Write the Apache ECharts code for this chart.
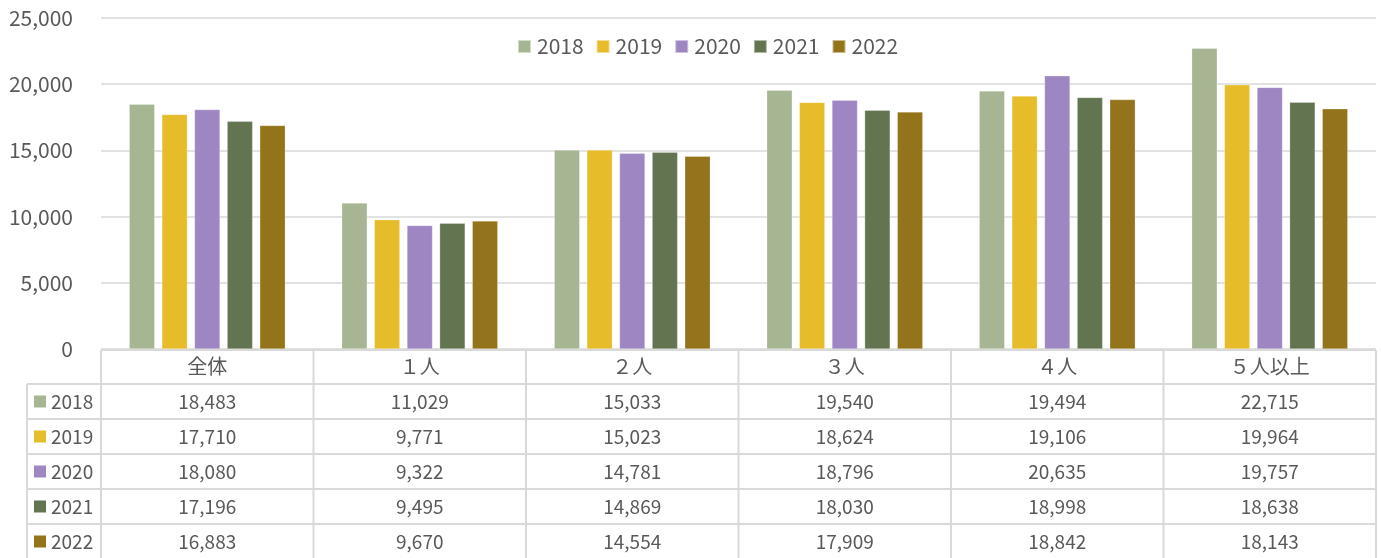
<!DOCTYPE html>
<html>
<head>
<meta charset="utf-8">
<script src="https://cdn.jsdelivr.net/npm/echarts@6/dist/echarts.min.js"></script>
<style>
  html, body { margin: 0; padding: 0; background: #fff; }
  #main { width: 1381px; height: 558px; }
</style>
</head>
<body>
<div id="main"></div>
<script>
// 世帯人数別のデータ
var categories = ['全体', '１人', '２人', '３人', '４人', '５人以上'];
var years = ['2018', '2019', '2020', '2021', '2022'];
var v2018 = [18483, 11029, 15033, 19540, 19494, 22715];
var v2019 = [17710, 9771, 15023, 18624, 19106, 19964];
var v2020 = [18080, 9322, 14781, 18796, 20635, 19757];
var v2021 = [17196, 9495, 14869, 18030, 18998, 18638];
var v2022 = [16883, 9670, 14554, 17909, 18842, 18143];
var yTicks = [0, 5000, 10000, 15000, 20000, 25000];

var colors = ['#A6B693', '#E6BC2A', '#9E86C2', '#637550', '#93741A'];
var values = [v2018, v2019, v2020, v2021, v2022];

var FONT = '"Noto Sans CJK JP", "Noto Sans", sans-serif';
var TXT = '#595959';
var LINE = '#D9D9D9';

// 表のレイアウト
var gridL = 101, gridR = 1376, axisY = 349;
var tabL = 27, headTop = 350, headBot = 384, rowH = 35;
var colW = (gridR - gridL) / categories.length;

function fmt(n) { return n.toLocaleString('en-US'); }

var graphics = [];
function hline(x1, x2, y) {
    graphics.push({ type: 'line', silent: true, shape: { x1: x1, y1: y, x2: x2, y2: y },
        style: { stroke: LINE, lineWidth: 2 } });
}
function vline(x, y1, y2) {
    graphics.push({ type: 'line', silent: true, shape: { x1: x, y1: y1, x2: x, y2: y2 },
        style: { stroke: LINE, lineWidth: 2 } });
}

var tabBot = headBot + rowH * years.length;
hline(gridL, gridR, headTop);
for (var r = 0; r <= years.length; r++) hline(tabL, gridR, headBot + r * rowH);
vline(tabL, headBot, tabBot);
for (var c = 0; c <= categories.length; c++) vline(gridL + c * colW, headTop, tabBot);

years.forEach(function (y, i) {
    var cy = headBot + i * rowH + rowH / 2;
    graphics.push({ type: 'rect', silent: true, shape: { x: 34, y: cy - 6, width: 12, height: 12 },
        style: { fill: colors[i] } });
    graphics.push({ type: 'text', silent: true, x: 51, y: cy,
        style: { text: y, fill: TXT, font: '19px ' + FONT, verticalAlign: 'middle', align: 'left' } });
    values[i].forEach(function (v, j) {
        graphics.push({ type: 'text', silent: true, x: gridL + j * colW + colW / 2, y: cy,
            style: { text: fmt(v), fill: TXT, font: '19px ' + FONT, verticalAlign: 'middle', align: 'center' } });
    });
});

var series = years.map(function (y, i) {
    return {
        name: y,
        type: 'bar',
        data: values[i],
        barWidth: 25.5,
        barGap: '28%',
        itemStyle: { color: colors[i], borderColor: 'rgba(255,255,255,0.5)', borderWidth: 0.5 },
        emphasis: { disabled: true }
    };
});

var myChart = echarts.init(document.getElementById('main'));
myChart.setOption({
    animation: false,
    textStyle: { fontFamily: FONT },
    legend: {
        left: 512,
        top: 31,
        itemWidth: 13,
        itemHeight: 13,
        itemGap: 12,
        icon: 'rect',
        textStyle: { fontSize: 21, color: TXT, padding: [0, 0, 0, 1] },
        data: years
    },
    grid: { left: gridL, right: 1381 - gridR, top: 18, bottom: 558 - axisY, containLabel: false },
    xAxis: {
        type: 'category',
        data: categories,
        axisLine: { show: false },
        axisTick: { show: false },
        axisLabel: { color: TXT, fontSize: 20, margin: 7, fontFamily: FONT }
    },
    yAxis: {
        type: 'value',
        min: yTicks[0],
        max: yTicks[yTicks.length - 1],
        interval: yTicks[1] - yTicks[0],
        axisLine: { show: false },
        axisTick: { show: false },
        axisLabel: { color: TXT, fontSize: 21, margin: 28, formatter: function (v) { return fmt(v); } },
        splitLine: { lineStyle: { color: LINE, width: 1.5 } }
    },
    series: series,
    graphic: graphics
});
</script>
</body>
</html>
